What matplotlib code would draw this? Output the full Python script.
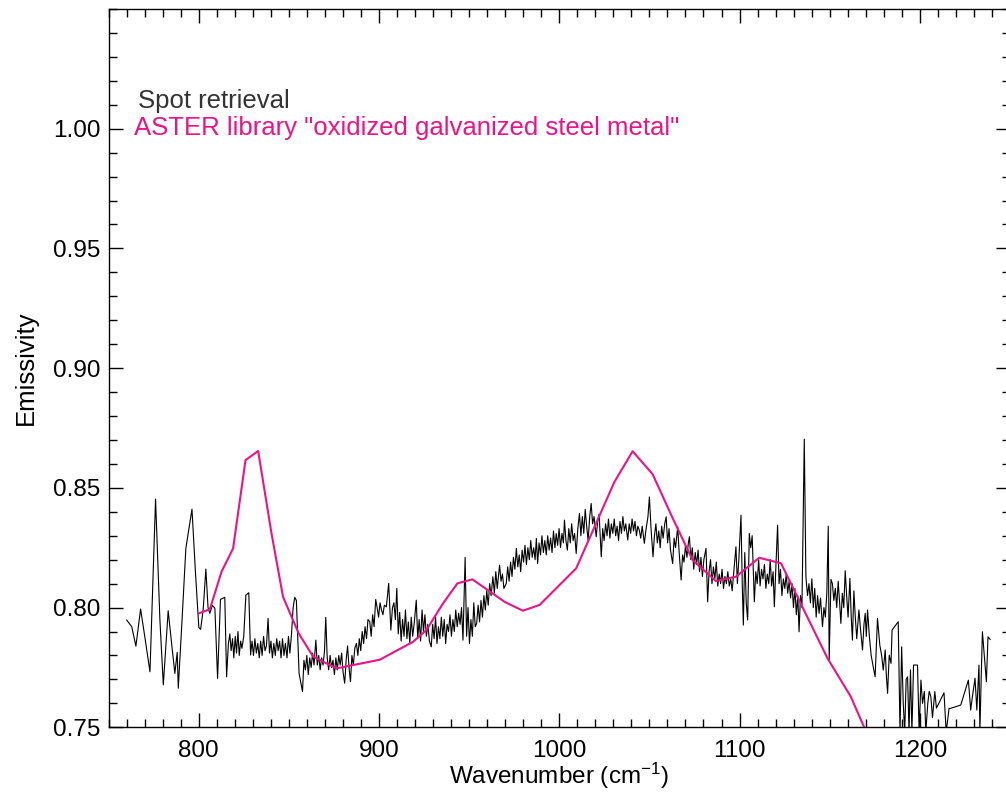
import matplotlib
matplotlib.use("Agg")
import matplotlib.pyplot as plt
from matplotlib.ticker import MultipleLocator, FormatStrFormatter

# ---------------- data ----------------
aster_wn = [800.1, 806.2, 812.7, 819.1, 826.0, 833.0, 840.4, 846.8, 855.5, 863.5,
            876.4, 900.4, 918.9, 926.3, 935.5, 943.5, 951.8, 969.7, 979.8, 989.1,
            1009.4, 1030.6, 1040.7, 1051.8, 1062.5, 1074.0, 1086.9, 1098.0, 1110.9,
            1123.0, 1148.8, 1161.7, 1172.0]
aster_em = [0.7976, 0.7993, 0.8150, 0.8247, 0.8616, 0.8654, 0.8310, 0.8045, 0.7892, 0.7795,
            0.7746, 0.7782, 0.7857, 0.7906, 0.8017, 0.8101, 0.8118, 0.8024, 0.7987, 0.8011,
            0.8164, 0.8525, 0.8653, 0.8557, 0.8380, 0.8198, 0.8111, 0.8129, 0.8208,
            0.8185, 0.7788, 0.7628, 0.7450]

spot_wn = [
    760.1, 762.9, 765.2, 767.8, 770.5, 773.0, 776.1, 778.5, 780.4, 783.1,
    785.0, 786.8, 788.1, 788.7, 790.8, 792.9, 796.3, 798.2, 800.1, 801.1,
    802.5, 804.0, 805.2, 806.2, 807.6, 809.0, 810.5, 812.1, 814.5, 815.5,
    816.5, 817.3, 818.0, 818.8, 819.5, 820.3, 821.0, 821.8, 822.5, 823.3,
    824.0, 825.0, 826.2, 827.8, 828.8, 829.6, 830.4, 831.2, 832.0, 832.8,
    833.6, 834.4, 835.2, 836.0, 836.8, 837.6, 838.5, 839.3, 840.1, 840.9,
    841.7, 842.5, 843.3, 844.1, 844.9, 845.7, 846.5, 847.3, 848.1, 849.0,
    849.8, 850.6, 851.5, 852.4, 853.3, 854.2, 855.7, 857.6, 858.4, 859.2,
    860.0, 860.8, 861.6, 862.4, 863.2, 864.0, 865.0, 865.8, 866.6, 867.4,
    868.2, 869.0, 869.8, 870.5, 871.3, 872.1, 872.9, 873.7, 874.5, 875.3,
    876.1, 876.9, 877.7, 878.5, 879.3, 880.1, 881.0, 881.8, 882.6, 883.4,
    884.2, 885.0, 885.8, 886.6, 887.5, 888.3, 889.1, 889.9, 890.7, 891.5,
    892.3, 893.1, 893.9, 894.9, 895.7, 896.5, 897.3, 898.2, 899.0, 899.8,
    900.6, 901.4, 902.2, 903.0, 904.1, 905.4, 906.6, 907.5, 908.3, 909.1,
    909.9, 910.7, 911.5, 912.3, 913.1, 913.9, 914.7, 915.5, 916.3, 917.1,
    917.9, 918.7, 919.5, 920.7, 921.5, 922.3, 923.1, 923.9, 924.7, 925.5,
    926.3, 927.1, 928.0, 929.0, 929.8, 930.6, 931.4, 932.2, 933.0, 933.8,
    934.6, 935.4, 936.2, 937.0, 937.8, 938.6, 939.4, 940.2, 941.0, 941.8,
    942.6, 943.4, 944.2, 945.0, 945.8, 946.6, 947.8, 948.6, 949.4, 950.2,
    951.0, 951.8, 952.6, 953.4, 954.2, 955.0, 955.8, 956.6, 957.4, 958.2,
    959.0, 959.8, 960.6, 961.4, 962.2, 963.2, 964.0, 964.8, 965.6, 966.9,
    967.7, 968.5, 969.3, 970.6, 971.4, 972.2, 973.0, 973.8, 974.6, 975.4,
    976.2, 977.0, 977.8, 978.6, 979.4, 980.2, 981.0, 981.8, 982.6, 983.4,
    984.2, 985.0, 985.8, 986.6, 987.3, 988.0, 988.8, 989.6, 990.4, 991.2,
    992.0, 992.8, 993.6, 994.4, 995.2, 996.0, 996.8, 997.6, 998.3, 999.1,
    999.9, 1000.7, 1001.5, 1002.3, 1002.9, 1003.7, 1004.5, 1005.3, 1006.1, 1006.9,
    1007.7, 1008.5, 1009.4, 1010.3, 1011.2, 1012.0, 1012.8, 1013.6, 1014.4, 1015.2,
    1016.0, 1016.9, 1017.7, 1018.5, 1019.3, 1020.5, 1021.3, 1022.1, 1023.3, 1024.1,
    1024.9, 1025.7, 1026.5, 1027.3, 1028.1, 1028.9, 1029.7, 1030.5, 1031.3, 1032.1,
    1032.9, 1033.7, 1034.5, 1035.3, 1036.1, 1036.9, 1038.0, 1038.8, 1039.6, 1040.4,
    1041.2, 1042.0, 1042.8, 1043.6, 1044.4, 1045.2, 1046.0, 1047.2, 1048.0, 1049.2,
    1050.0, 1050.9, 1052.0, 1052.8, 1053.6, 1054.4, 1055.2, 1056.0, 1056.8, 1057.6,
    1058.5, 1059.3, 1060.1, 1060.9, 1061.7, 1062.9, 1063.7, 1064.5, 1065.7, 1066.5,
    1067.6, 1068.4, 1069.2, 1070.0, 1070.8, 1071.6, 1072.2, 1073.0, 1073.8, 1074.6,
    1075.4, 1076.2, 1077.0, 1077.8, 1078.6, 1079.4, 1080.2, 1081.4, 1082.3, 1083.1,
    1083.9, 1084.7, 1085.5, 1086.3, 1087.1, 1087.9, 1088.7, 1089.5, 1090.3, 1091.1,
    1091.9, 1092.7, 1093.5, 1094.3, 1095.1, 1095.9, 1096.7, 1098.0, 1098.8, 1099.6,
    1100.8, 1101.5, 1102.1, 1102.9, 1103.7, 1104.5, 1105.4, 1106.2, 1107.0, 1108.2,
    1109.0, 1109.8, 1110.6, 1111.4, 1112.2, 1113.0, 1113.8, 1114.6, 1115.4, 1116.2,
    1117.0, 1117.8, 1118.6, 1119.3, 1120.2, 1121.1, 1121.9, 1122.7, 1123.5, 1124.3,
    1125.1, 1125.9, 1126.7, 1127.5, 1128.3, 1129.1, 1129.9, 1130.7, 1131.5, 1132.3,
    1133.0, 1133.8, 1134.6, 1135.9, 1136.8, 1137.7, 1138.5, 1139.3, 1140.1, 1140.9,
    1141.7, 1142.5, 1143.3, 1144.1, 1144.9, 1146.0, 1146.8, 1147.6, 1148.4, 1149.2,
    1149.7, 1150.7, 1151.5, 1152.3, 1153.1, 1153.9, 1154.7, 1155.5, 1156.2, 1157.0,
    1157.8, 1158.6, 1159.4, 1160.2, 1161.2, 1162.0, 1162.6, 1163.4, 1164.2, 1165.0,
    1166.2, 1167.2, 1168.2, 1169.0, 1169.7, 1170.3, 1171.0, 1172.0, 1173.0, 1174.2,
    1175.2, 1176.5, 1177.8, 1178.8, 1179.7, 1180.8, 1181.4, 1182.1, 1183.0, 1184.0,
    1184.6, 1188.0, 1189.0, 1189.9, 1190.8, 1191.6, 1192.4, 1193.2, 1194.0, 1194.8,
    1195.6, 1196.5, 1198.7, 1199.6, 1200.6, 1201.5, 1202.5, 1203.3, 1204.4, 1205.2,
    1206.1, 1207.0, 1208.3, 1209.2, 1213.4, 1214.6, 1216.2, 1217.0, 1222.7, 1226.9,
    1228.2, 1229.0, 1230.6, 1231.6, 1232.8, 1233.3, 1234.0, 1234.7, 1236.9, 1237.8,
    1239.0,
]
spot_em = [
    0.7948, 0.7920, 0.7839, 0.7994, 0.7860, 0.7732, 0.8453, 0.7950, 0.7677, 0.7987,
    0.7850, 0.7725, 0.7813, 0.7663, 0.7950, 0.8247, 0.8411, 0.8150, 0.7917, 0.7909,
    0.7990, 0.8161, 0.8000, 0.7976, 0.8010, 0.7997, 0.7704, 0.8034, 0.8043, 0.7711,
    0.7850, 0.7890, 0.7820, 0.7870, 0.7790, 0.7880, 0.7810, 0.7900, 0.7800, 0.7860,
    0.7830, 0.7880, 0.8052, 0.8062, 0.7802, 0.7860, 0.7800, 0.7870, 0.7810, 0.7850,
    0.7790, 0.7860, 0.7800, 0.7880, 0.7820, 0.7840, 0.7955, 0.7810, 0.7860, 0.7790,
    0.7850, 0.7800, 0.7870, 0.7820, 0.7860, 0.7790, 0.7870, 0.7800, 0.7850, 0.7790,
    0.7880, 0.7810, 0.7890, 0.8000, 0.8043, 0.8030, 0.7725, 0.7649, 0.7780, 0.7740,
    0.7800, 0.7720, 0.7790, 0.7750, 0.7810, 0.7760, 0.7864, 0.7760, 0.7800, 0.7740,
    0.7790, 0.7760, 0.7820, 0.7959, 0.7790, 0.7740, 0.7800, 0.7750, 0.7780, 0.7720,
    0.7790, 0.7740, 0.7800, 0.7760, 0.7810, 0.7730, 0.7684, 0.7780, 0.7840, 0.7750,
    0.7690, 0.7800, 0.7760, 0.7830, 0.7850, 0.7800, 0.7870, 0.7820, 0.7900, 0.7850,
    0.7920, 0.7870, 0.7950, 0.7941, 0.7880, 0.7970, 0.7920, 0.8034, 0.8000, 0.7960,
    0.8020, 0.7990, 0.7970, 0.8010, 0.8003, 0.8101, 0.7906, 0.8000, 0.8020, 0.7950,
    0.8080, 0.7890, 0.7980, 0.7860, 0.7950, 0.7880, 0.7990, 0.7870, 0.7940, 0.7850,
    0.7960, 0.7880, 0.7930, 0.8031, 0.7870, 0.7950, 0.7860, 0.7990, 0.7900, 0.7970,
    0.7880, 0.7930, 0.7860, 0.7836, 0.7930, 0.7870, 0.7960, 0.7850, 0.7920, 0.7870,
    0.7960, 0.7880, 0.7950, 0.7850, 0.7930, 0.7900, 0.7970, 0.7880, 0.7950, 0.7900,
    0.7990, 0.7920, 0.7976, 0.7930, 0.8000, 0.7864, 0.8210, 0.7880, 0.8000, 0.7850,
    0.7950, 0.7880, 0.8020, 0.7920, 0.7934, 0.8010, 0.7940, 0.8030, 0.7960, 0.8050,
    0.7990, 0.8070, 0.8010, 0.8100, 0.8050, 0.8129, 0.8060, 0.8150, 0.8080, 0.8177,
    0.8110, 0.8140, 0.8080, 0.8101, 0.8170, 0.8110, 0.8190, 0.8130, 0.8210, 0.8160,
    0.8247, 0.8170, 0.8220, 0.8150, 0.8240, 0.8190, 0.8260, 0.8180, 0.8250, 0.8200,
    0.8280, 0.8210, 0.8250, 0.8200, 0.8289, 0.8184, 0.8270, 0.8220, 0.8300, 0.8230,
    0.8280, 0.8220, 0.8300, 0.8240, 0.8290, 0.8230, 0.8320, 0.8250, 0.8309, 0.8260,
    0.8330, 0.8250, 0.8310, 0.8270, 0.8365, 0.8280, 0.8240, 0.8330, 0.8270, 0.8350,
    0.8280, 0.8310, 0.8226, 0.8330, 0.8393, 0.8300, 0.8380, 0.8310, 0.8410, 0.8340,
    0.8280, 0.8380, 0.8435, 0.8350, 0.8380, 0.8296, 0.8360, 0.8390, 0.8212, 0.8330,
    0.8280, 0.8350, 0.8300, 0.8370, 0.8290, 0.8350, 0.8310, 0.8370, 0.8300, 0.8340,
    0.8280, 0.8360, 0.8310, 0.8380, 0.8320, 0.8350, 0.8282, 0.8350, 0.8310, 0.8370,
    0.8320, 0.8360, 0.8300, 0.8340, 0.8323, 0.8290, 0.8340, 0.8268, 0.8320, 0.8380,
    0.8462, 0.8330, 0.8212, 0.8300, 0.8350, 0.8270, 0.8320, 0.8250, 0.8340, 0.8290,
    0.8350, 0.8379, 0.8270, 0.8330, 0.8240, 0.8184, 0.8290, 0.8250, 0.8337, 0.8230,
    0.8115, 0.8220, 0.8190, 0.8260, 0.8210, 0.8270, 0.8296, 0.8200, 0.8250, 0.8160,
    0.8230, 0.8180, 0.8240, 0.8150, 0.8210, 0.8130, 0.8200, 0.8247, 0.8024, 0.8150,
    0.8200, 0.8100, 0.8170, 0.8120, 0.8190, 0.8090, 0.8140, 0.8100, 0.8160, 0.8080,
    0.8130, 0.8100, 0.8150, 0.8090, 0.8120, 0.8070, 0.8140, 0.8254, 0.8100, 0.8200,
    0.8386, 0.8100, 0.7927, 0.8230, 0.8020, 0.7948, 0.8310, 0.8250, 0.8300, 0.8024,
    0.8150, 0.8100, 0.8200, 0.8090, 0.8160, 0.8120, 0.8180, 0.8080, 0.8140, 0.8100,
    0.8200, 0.8090, 0.8150, 0.8003, 0.8180, 0.8344, 0.8100, 0.8160, 0.8050, 0.8120,
    0.8080, 0.8140, 0.8060, 0.8110, 0.8040, 0.8100, 0.8000, 0.8080, 0.7970, 0.8050,
    0.7899, 0.8050, 0.8000, 0.8703, 0.8129, 0.8050, 0.8100, 0.8020, 0.8120, 0.8000,
    0.8080, 0.7960, 0.8050, 0.7976, 0.8040, 0.7920, 0.8000, 0.7960, 0.8060, 0.8340,
    0.7781, 0.8118, 0.8100, 0.8030, 0.8080, 0.8000, 0.8110, 0.8020, 0.7934, 0.8060,
    0.8000, 0.8154, 0.8050, 0.7960, 0.8122, 0.7950, 0.7864, 0.8070, 0.7960, 0.7870,
    0.7990, 0.7900, 0.7823, 0.7930, 0.7976, 0.7880, 0.7990, 0.7880, 0.7800, 0.7750,
    0.7711, 0.7955, 0.7843, 0.7800, 0.7739, 0.7823, 0.7720, 0.7642, 0.7801, 0.7767,
    0.7906, 0.7941, 0.7480, 0.7836, 0.7600, 0.7480, 0.7700, 0.7711, 0.7480, 0.7740,
    0.7480, 0.7760, 0.7760, 0.7480, 0.7697, 0.7600, 0.7650, 0.7480, 0.7600, 0.7650,
    0.7628, 0.7540, 0.7649, 0.7580, 0.7644, 0.7480, 0.7579, 0.7579, 0.7593, 0.7697,
    0.7572, 0.7620, 0.7705, 0.7572, 0.7760, 0.7480, 0.7700, 0.7899, 0.7690, 0.7878,
    0.7867,
]

x_ticks = [800, 900, 1000, 1100, 1200]
y_ticks = [0.75, 0.80, 0.85, 0.90, 0.95, 1.00]

# ---------------- style ----------------
plt.rcParams['font.family'] = ['Liberation Sans', 'DejaVu Sans']
plt.rcParams['mathtext.fontset'] = 'custom'
plt.rcParams['mathtext.rm'] = 'Liberation Sans'
plt.rcParams['mathtext.default'] = 'regular'
PINK = '#EB1485'
W, H = 1006, 792
fig = plt.figure(figsize=(W / 100, H / 100), dpi=100)
left_px, right_px, top_px, bottom_px = 108.5, 1010.0, 9.0, 727.3
ax = fig.add_axes([left_px / W, (H - bottom_px) / H,
                   (right_px - left_px) / W, (bottom_px - top_px) / H])

ax.plot(spot_wn, spot_em, color='black', lw=0.8)
ax.plot(aster_wn, aster_em, color=PINK, lw=1.5)

ax.set_xlim(750, 1250)
ax.set_ylim(0.75, 1.05)
ax.set_xticks(x_ticks)
ax.set_yticks(y_ticks)
ax.yaxis.set_major_formatter(FormatStrFormatter('%.2f'))
ax.xaxis.set_minor_locator(MultipleLocator(10))
ax.yaxis.set_minor_locator(MultipleLocator(0.01))
ax.tick_params(which='both', direction='in', top=True, right=True, width=1.0,
               labelsize=17.5, colors='black')
ax.tick_params(which='major', length=10)
ax.tick_params(which='minor', length=5.5)
ax.tick_params(axis='x', which='major', pad=9)
ax.tick_params(axis='y', which='major', pad=6)
for s in ax.spines.values():
    s.set_linewidth(1.0)

ax.set_xlabel('Wavenumber (cm$^{-1}$)', fontsize=17.5, labelpad=-1)
ax.set_ylabel('Emissivity', fontsize=18.5, labelpad=11)

fig.text(138 / W, 1 - 108 / H, 'Spot retrieval', fontsize=18.5, color='#333333',
         va='baseline', ha='left')
fig.text(134 / W, 1 - 135 / H, 'ASTER library "oxidized galvanized steel metal"',
         fontsize=18.5, color=PINK, va='baseline', ha='left')

fig.savefig('out.png', dpi=100)
